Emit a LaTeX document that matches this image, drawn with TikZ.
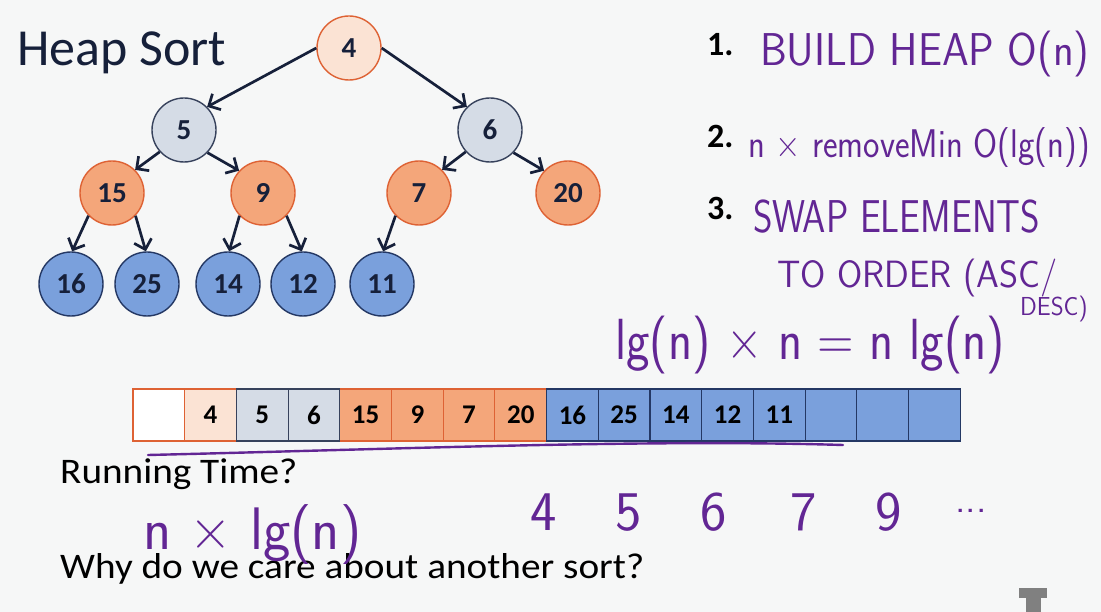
\documentclass[tikz,border=0pt]{standalone}
\usepackage{fontspec}
\usepackage{graphicx}
\setmainfont{Carlito}
\usetikzlibrary{arrows.meta}

\definecolor{slidebg}{RGB}{246,247,247}
\definecolor{navy}{RGB}{22,32,58}
\definecolor{peachfill}{RGB}{251,227,212}
\definecolor{orangeline}{RGB}{222,98,52}
\definecolor{grayfill}{RGB}{213,220,230}
\definecolor{grayline}{RGB}{55,66,92}
\definecolor{orangefill}{RGB}{244,166,122}
\definecolor{bluefill}{RGB}{122,160,220}
\definecolor{blueline}{RGB}{36,56,100}
\definecolor{pen}{RGB}{98,38,148}
\definecolor{logogray}{RGB}{128,128,128}

% horizontally squeezed handwriting-style text: size, x-scale, text
\newcommand{\penfont}[3]{\scalebox{#2}[1]{\fontsize{#1}{#1}\selectfont #3}}
% bold labels at a given size
\newcommand{\boldat}[2]{{\fontsize{#1}{#1}\selectfont\bfseries #2}}

\begin{document}
\begin{tikzpicture}[x=1pt,y=-1pt,
  heapnode/.style={circle, minimum size=64pt, inner sep=0pt, line width=1.4pt,
    text=navy},
  rootnode/.style={heapnode, fill=peachfill, draw=orangeline},
  graynode/.style={heapnode, fill=grayfill, draw=grayline},
  orangenode/.style={heapnode, fill=orangefill, draw=orangeline},
  bluenode/.style={heapnode, fill=bluefill, draw=blueline},
  edge/.style={draw=navy, line width=2.7pt,
    -{Straight Barb[length=9pt,width=18pt,line width=2.7pt]}},
  cell/.style={rectangle, minimum width=51.7pt, minimum height=52pt, inner sep=0pt,
    line width=1.1pt, text=black},
  pen/.style={text=pen, font=\sffamily, inner sep=0pt, anchor=base west},
  stroke/.style={draw=pen, line width=2.4pt, line cap=round},
  stepnum/.style={text=black, inner sep=0pt, anchor=base west},
  body/.style={text=black, inner sep=0pt, anchor=base west}
]
\fill[slidebg] (0,0) rectangle (1101,612);
\useasboundingbox (0,0) rectangle (1101,612);

% title
\node[text=navy, inner sep=0pt, anchor=base west, font=\fontsize{52}{52}\selectfont] (title) at (17,66) {Heap Sort};

% heap as a tree
\node[rootnode]   (n4)  at (349,48)  {\boldat{29}{4}};
\node[graynode]   (n5)  at (184,130) {\boldat{29}{5}};
\node[graynode]   (n6)  at (490,130) {\boldat{29}{6}};
\node[orangenode] (n15) at (112,193) {\boldat{29}{15}};
\node[orangenode] (n9)  at (263,193) {\boldat{29}{9}};
\node[orangenode] (n7)  at (419,193) {\boldat{29}{7}};
\node[orangenode] (n20) at (568,193) {\boldat{29}{20}};
\node[bluenode]   (n16) at (71,284)  {\boldat{29}{16}};
\node[bluenode]   (n25) at (147,284) {\boldat{29}{25}};
\node[bluenode]   (n14) at (228,284) {\boldat{29}{14}};
\node[bluenode]   (n12) at (303,284) {\boldat{29}{12}};
\node[bluenode]   (n11) at (382,284) {\boldat{29}{11}};

\draw[edge] (n4.180) -- (n5.45);
\draw[edge] (n4.0)   -- (n6.135);
\draw[edge] (n5.222) -- (n15.45);
\draw[edge] (n5.-44) -- (n9.137);
\draw[edge] (n6.222) -- (n7.45);
\draw[edge] (n6.-44) -- (n20.137);
\draw[edge] (n15.224) -- (n16.88);
\draw[edge] (n15.-44) -- (n25.92);
\draw[edge] (n9.224)  -- (n14.88);
\draw[edge] (n9.-44)  -- (n12.92);
\draw[edge] (n7.224)  -- (n11.88);

% heap as an array
\node[cell, fill=white, draw=orangeline]      (c0)  at (158.85,415) {};
\node[cell, fill=peachfill, draw=orangeline]  (c1)  at (210.55,415) {\boldat{27}{4}};
\node[cell, fill=orangefill, draw=orangeline] (c4)  at (365.65,415) {\boldat{27}{15}};
\node[cell, fill=orangefill, draw=orangeline] (c5)  at (417.35,415) {\boldat{27}{9}};
\node[cell, fill=orangefill, draw=orangeline] (c6)  at (469.05,415) {\boldat{27}{7}};
\node[cell, fill=orangefill, draw=orangeline] (c7)  at (520.75,415) {\boldat{27}{20}};
\node[cell, fill=grayfill, draw=grayline]     (c2)  at (262.25,415) {\boldat{27}{5}};
\node[cell, fill=grayfill, draw=grayline]     (c3)  at (313.95,415) {\boldat{27}{6}};
\node[cell, fill=bluefill, draw=blueline]     (c8)  at (572.45,415) {\boldat{27}{16}};
\node[cell, fill=bluefill, draw=blueline]     (c9)  at (624.15,415) {\boldat{27}{25}};
\node[cell, fill=bluefill, draw=blueline]     (c10) at (675.85,415) {\boldat{27}{14}};
\node[cell, fill=bluefill, draw=blueline]     (c11) at (727.55,415) {\boldat{27}{12}};
\node[cell, fill=bluefill, draw=blueline]     (c12) at (779.25,415) {\boldat{27}{11}};
\node[cell, fill=bluefill, draw=blueline]     (c13) at (830.95,415) {};
\node[cell, fill=bluefill, draw=blueline]     (c14) at (882.65,415) {};
\node[cell, fill=bluefill, draw=blueline]     (c15) at (934.35,415) {};

% steps
\node[stepnum] (s1) at (707,56)  {\boldat{34}{1.}};
\node[stepnum] (s2) at (707,148) {\boldat{34}{2.}};
\node[stepnum] (s3) at (707,220) {\boldat{34}{3.}};

% questions
\node[body] (q1) at (60,483) {\scalebox{1.09}[1]{\fontsize{36}{36}\selectfont Running Time?}};
\node[body] (q2) at (60,578) {\scalebox{1.09}[1]{\fontsize{36}{36}\selectfont Why do we care about another sort?}};

% pen annotations
\node[pen] (p1) at (760,66)  {\penfont{46}{0.93}{BUILD HEAP O(n)}};
\node[pen] (p2) at (748,158) {\penfont{40}{0.87}{n × removeMin O(lg(n))}};
\node[pen] (p3) at (753,233) {\penfont{46}{0.81}{SWAP ELEMENTS}};
\node[pen] (p4) at (777,288) {\penfont{38}{0.96}{TO ORDER (ASC/}};
\node[pen] (p5) at (1020,316) {\penfont{26}{0.95}{DESC)}};
\node[pen] (p6) at (615,360) {\penfont{58}{0.86}{lg(n) × n = n lg(n)}};
\draw[stroke] (148,455) .. controls (400,449) and (650,439) .. (843,445);
\node[pen] (d4) at (530,530) {\penfont{56}{1}{4}};
\node[pen] (d5) at (615,530) {\penfont{56}{1}{5}};
\node[pen] (d6) at (700,530) {\penfont{56}{1}{6}};
\node[pen] (d7) at (790,530) {\penfont{56}{1}{7}};
\node[pen] (d9) at (875,530) {\penfont{56}{1}{9}};
\node[pen] (dd) at (955,512) {\penfont{40}{1}{...}};
\node[pen] (p7) at (143,549) {\penfont{60}{0.97}{n × lg(n)}};

% corner logo
\fill[logogray] (1019,588) rectangle (1047,598);
\fill[logogray] (1026,598) rectangle (1041,612);
\end{tikzpicture}
\end{document}
